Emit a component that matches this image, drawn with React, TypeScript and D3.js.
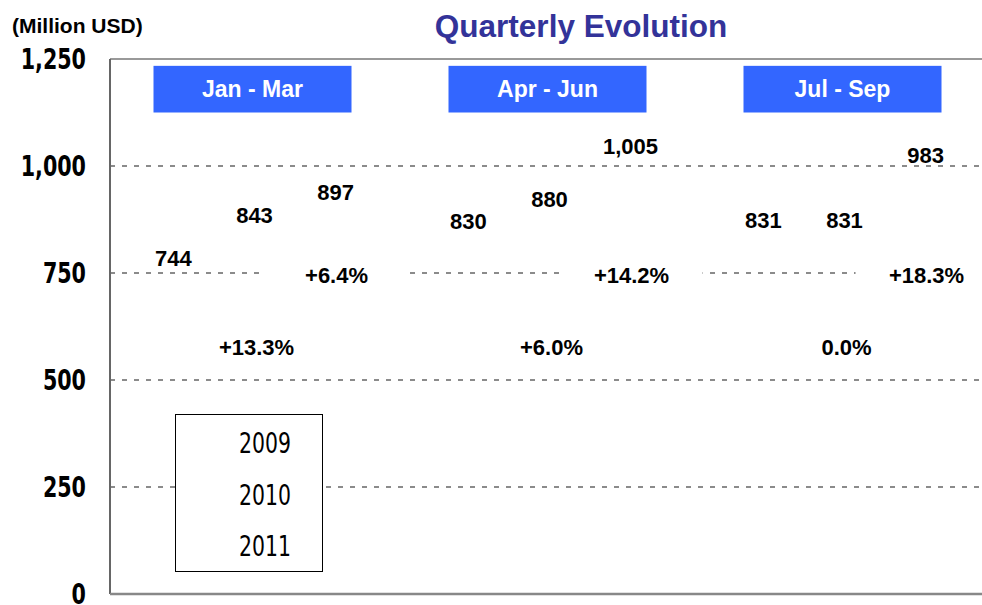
import React from "react";
import * as d3 from "d3";

// values (Million USD)
const quarters = ["Jan - Mar", "Apr - Jun", "Jul - Sep"];
const years = ["2009", "2010", "2011"];
const sales2009 = [744, 830, 831];
const sales2010 = [843, 880, 831];
const sales2011 = [897, 1005, 983];
const growth10vs09 = ["+13.3%", "+6.0%", "0.0%"];
const growth11vs10 = ["+6.4%", "+14.2%", "+18.3%"];
const yTicks = [0, 250, 500, 750, 1000, 1250];

const W = 982;
const H = 605;
const margin = { top: 59, right: 0, bottom: 11, left: 110 };

const narrow = "'Liberation Sans Narrow', 'DejaVu Sans Condensed', 'Arial Narrow', sans-serif";
const arial = "'Liberation Sans', Arial, Helvetica, sans-serif";

export default function App() {
  const innerH = H - margin.top - margin.bottom;

  const y = d3.scaleLinear().domain([0, 1250]).range([margin.top + innerH, margin.top]);
  // the category area runs a bit past the visible right edge
  const x0 = d3.scaleBand().domain(quarters).range([margin.left - 5, W + 8]);
  const x1 = d3.scaleBand().domain(years).range([0, x0.bandwidth()]).paddingInner(0.3).paddingOuter(0.47);

  const series = [sales2009, sales2010, sales2011];
  const fmt = d3.format(",");
  const cx = (q: string, yr: string) => (x0(q) ?? 0) + (x1(yr) ?? 0) + x1.bandwidth() / 2;

  const gridTicks = yTicks.filter((t) => t > 0 && t < 1250);
  const boxW = 198;

  return (
    <svg width={W} height={H} style={{ position: "absolute", left: 0, top: 0, background: "#fff" }}>
      {/* gridlines */}
      {gridTicks.map((t) => (
        <line key={t} x1={margin.left} x2={W} y1={y(t)} y2={y(t)}
          stroke="#666" strokeWidth={1.3} strokeDasharray="5,7" />
      ))}

      {/* white backing of the 2011 growth labels */}
      {quarters.map((q) => (
        <rect key={"bk" + q} x={cx(q, "2011") - 68} y={y(780)} width={142} height={y(700) - y(780)} fill="#fff" />
      ))}

      {/* value labels */}
      {series.map((vals, si) =>
        vals.map((v, qi) => (
          <text key={si + "-" + qi} x={cx(quarters[qi], years[si]) + 2} y={y(v) - 10}
            textAnchor="middle" fontFamily={arial} fontWeight="bold" fontSize={22} fill="#000">
            {fmt(v)}
          </text>
        ))
      )}

      {/* growth labels */}
      {quarters.map((q, qi) => (
        <g key={"g" + q} fontFamily={arial} fontWeight="bold" fontSize={22} fill="#000" textAnchor="middle">
          <text x={cx(q, "2010") + 4} y={y(577) + 8}>{growth10vs09[qi]}</text>
          <text x={cx(q, "2011") + 3} y={y(745) + 8}>{growth11vs10[qi]}</text>
        </g>
      ))}

      {/* quarter headers */}
      {quarters.map((q) => {
        const c = (x0(q) ?? 0) + x0.bandwidth() / 2;
        return (
          <g key={"h" + q}>
            <rect x={c - boxW / 2} y={y(1234)} width={boxW} height={y(1125) - y(1234)} fill="#3366FF" />
            <text x={c} y={y(1180) + 8} textAnchor="middle" fontFamily={arial} fontWeight="bold"
              fontSize={23} fill="#fff">{q}</text>
          </g>
        );
      })}

      {/* legend */}
      <g>
        <rect x={175.5} y={414.5} width={147} height={157} fill="#fff" stroke="#000" strokeWidth={1} />
        {years.map((yr, i) => (
          <text key={yr} transform={`translate(239,${443 + i * 51.5}) scale(0.81,1)`} dy="0.36em"
            fontFamily={narrow} fontSize={28} fill="#000">
            {yr}
          </text>
        ))}
      </g>

      {/* frame / axes */}
      <line x1={margin.left} x2={W} y1={margin.top} y2={margin.top} stroke="#999" strokeWidth={2} />
      <line x1={margin.left} x2={margin.left} y1={margin.top} y2={y(0)} stroke="#666" strokeWidth={2} />
      <line x1={margin.left} x2={W} y1={y(0)} y2={y(0)} stroke="#888" strokeWidth={2.5} />

      {/* y tick labels */}
      {yTicks.map((t) => (
        <text key={"t" + t} transform={`translate(86,${y(t)}) scale(0.82,1)`} dy="0.36em" textAnchor="end"
          fontFamily={narrow} fontWeight="bold" fontSize={28} fill="#000">
          {fmt(t)}
        </text>
      ))}

      {/* titles */}
      <text x={12} y={33} fontFamily={arial} fontWeight="bold" fontSize={21} fill="#000">(Million USD)</text>
      <text x={581} y={37} textAnchor="middle" fontFamily={arial} fontWeight="bold" fontSize={31.5} fill="#333399">
        Quarterly Evolution
      </text>
    </svg>
  );
}
